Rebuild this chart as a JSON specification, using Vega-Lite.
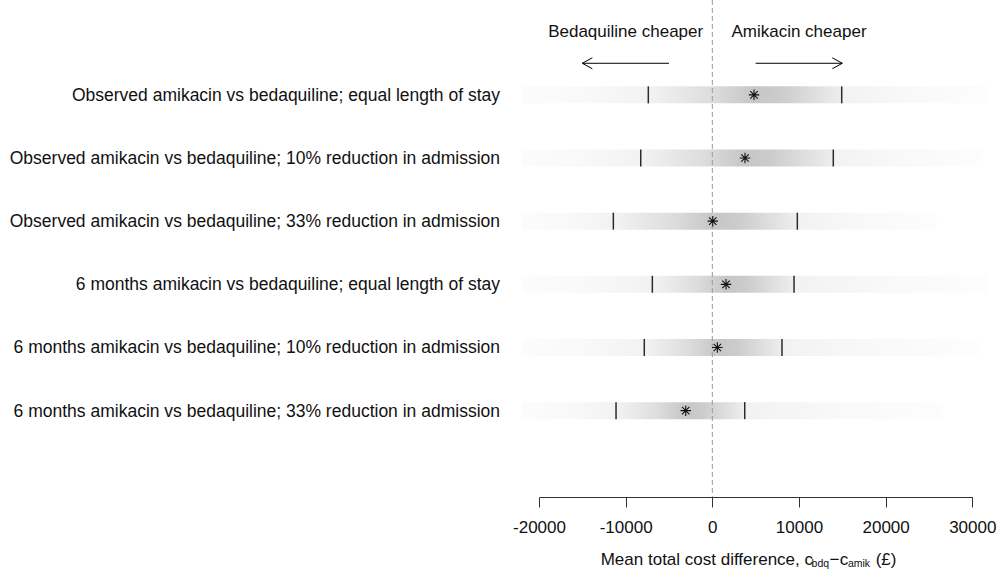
{
  "$schema": "https://vega.github.io/schema/vega-lite/v6.json",
  "autosize": {"type": "none"},
  "padding": {"left": 539, "top": 0, "right": 27.7, "bottom": 81},
  "width": 433.3,
  "height": 497,
  "background": "white",
  "config": {
    "view": {"stroke": null},
    "font": "Liberation Sans",
    "axisX": {
      "domainColor": "#333333",
      "tickColor": "#333333",
      "tickSize": 10,
      "labelFontSize": 17,
      "labelFont": "Liberation Sans",
      "labelColor": "#111111",
      "labelPadding": 12,
      "grid": false,
      "labelFlush": false,
      "labelOverlap": false
    }
  },
  "datasets": {
    "rows": [
      {"row": 1, "label": "Observed amikacin vs bedaquiline; equal length of stay", "start": -22000, "lo": -7385, "est": 4810, "hi": 14930, "end": 32000},
      {"row": 2, "label": "Observed amikacin vs bedaquiline; 10% reduction in admission", "start": -22000, "lo": -8260, "est": 3770, "hi": 13960, "end": 31200},
      {"row": 3, "label": "Observed amikacin vs bedaquiline; 33% reduction in admission", "start": -22000, "lo": -11420, "est": 50, "hi": 9810, "end": 25890},
      {"row": 4, "label": "6 months amikacin vs bedaquiline; equal length of stay", "start": -22000, "lo": -6920, "est": 1580, "hi": 9430, "end": 31850},
      {"row": 5, "label": "6 months amikacin vs bedaquiline; 10% reduction in admission", "start": -22000, "lo": -7850, "est": 580, "hi": 8040, "end": 30690},
      {"row": 6, "label": "6 months amikacin vs bedaquiline; 33% reduction in admission", "start": -22000, "lo": -11110, "est": -3070, "hi": 3740, "end": 26580}
    ],
    "arrows": [
      {"dir": "left", "from": -5000, "to": -15000, "row": 0.5},
      {"dir": "right", "from": 5000, "to": 15000, "row": 0.5}
    ],
    "notes": [
      {"text": "Bedaquiline cheaper", "x": -10000, "row": 0},
      {"text": "Amikacin cheaper", "x": 10000, "row": 0}
    ]
  },
  "data": {"name": "rows"},
  "layer": [
    {
      "mark": {"type": "bar", "orient": "horizontal", "height": 17,
        "color": {"gradient": "linear", "x1": 0, "y1": 0, "x2": 1, "y2": 0,
          "stops": [{"offset": 0, "color": "#fcfcfc"}, {"offset": 0.5, "color": "#f9f9f9"}, {"offset": 1, "color": "#f2f2f2"}]}},
      "encoding": {
        "x": {"field": "start", "type": "quantitative", "title": null,
          "scale": {"domain": [-20000, 30000], "nice": false, "zero": false},
          "axis": {"values": [-20000, -10000, 0, 10000, 20000, 30000], "labelExpr": "toString(datum.value)", "title": null}},
        "x2": {"field": "lo"},
        "y": {"field": "row", "type": "quantitative", "title": null, "axis": null,
          "scale": {"domain": [-0.4226, 7.288], "reverse": true, "nice": false, "zero": false}}
      }
    },
    {
      "mark": {"type": "bar", "orient": "horizontal", "height": 17,
        "color": {"gradient": "linear", "x1": 0, "y1": 0, "x2": 1, "y2": 0,
          "stops": [{"offset": 0, "color": "#f2f2f2"}, {"offset": 0.5, "color": "#f9f9f9"}, {"offset": 1, "color": "#fdfdfd"}]}},
      "encoding": {
        "x": {"field": "hi", "type": "quantitative", "title": null},
        "x2": {"field": "end"},
        "y": {"field": "row", "type": "quantitative", "title": null, "axis": null}
      }
    },
    {
      "mark": {"type": "bar", "orient": "horizontal", "height": 17,
        "color": {"gradient": "linear", "x1": 0, "y1": 0, "x2": 1, "y2": 0,
          "stops": [{"offset": 0, "color": "#f3f3f3"}, {"offset": 0.6, "color": "#dddddd"}, {"offset": 1, "color": "#c6c6c6"}]}},
      "encoding": {
        "x": {"field": "lo", "type": "quantitative", "title": null},
        "x2": {"field": "est"},
        "y": {"field": "row", "type": "quantitative", "title": null, "axis": null}
      }
    },
    {
      "mark": {"type": "bar", "orient": "horizontal", "height": 17,
        "color": {"gradient": "linear", "x1": 0, "y1": 0, "x2": 1, "y2": 0,
          "stops": [{"offset": 0, "color": "#c6c6c6"}, {"offset": 0.3, "color": "#cccccc"}, {"offset": 1, "color": "#eeeeee"}]}},
      "encoding": {
        "x": {"field": "est", "type": "quantitative", "title": null},
        "x2": {"field": "hi"},
        "y": {"field": "row", "type": "quantitative", "title": null, "axis": null}
      }
    },
    {
      "data": {"values": [{"ref": 0}]},
      "mark": {"type": "rule", "color": "#9a9a9a", "strokeWidth": 1, "strokeDash": [5, 3]},
      "encoding": {
        "x": {"field": "ref", "type": "quantitative", "title": null}
      }
    },
    {
      "mark": {"type": "tick", "orient": "vertical", "size": 17, "thickness": 1.5, "color": "#2b2b2b", "opacity": 1},
      "encoding": {
        "x": {"field": "lo", "type": "quantitative", "title": null},
        "y": {"field": "row", "type": "quantitative", "title": null, "axis": null}
      }
    },
    {
      "mark": {"type": "tick", "orient": "vertical", "size": 17, "thickness": 1.5, "color": "#2b2b2b", "opacity": 1},
      "encoding": {
        "x": {"field": "hi", "type": "quantitative", "title": null},
        "y": {"field": "row", "type": "quantitative", "title": null, "axis": null}
      }
    },
    {
      "mark": {"type": "point", "shape": "M-1,0L1,0M0,-1L0,1M-0.71,-0.71L0.71,0.71M-0.71,0.71L0.71,-0.71", "size": 110, "filled": false, "stroke": "#111111", "strokeWidth": 1.1, "opacity": 1},
      "encoding": {
        "x": {"field": "est", "type": "quantitative", "title": null},
        "y": {"field": "row", "type": "quantitative", "title": null, "axis": null}
      }
    },
    {
      "mark": {"type": "text", "align": "right", "baseline": "middle", "dx": -39, "dy": 1, "fontSize": 17.5, "font": "Liberation Sans", "color": "#111111"},
      "encoding": {
        "x": {"datum": -20000, "type": "quantitative", "title": null},
        "y": {"field": "row", "type": "quantitative", "title": null, "axis": null},
        "text": {"field": "label"}
      }
    },
    {
      "data": {"name": "arrows"},
      "mark": {"type": "rule", "color": "#000000", "strokeWidth": 1},
      "encoding": {
        "x": {"field": "from", "type": "quantitative", "title": null},
        "x2": {"field": "to"},
        "y": {"field": "row", "type": "quantitative", "title": null, "axis": null}
      }
    },
    {
      "data": {"name": "arrows"},
      "mark": {"type": "point", "filled": false, "stroke": "#000000", "strokeWidth": 1, "size": 400, "opacity": 1},
      "encoding": {
        "x": {"field": "to", "type": "quantitative", "title": null},
        "y": {"field": "row", "type": "quantitative", "title": null, "axis": null},
        "shape": {"field": "dir", "type": "nominal", "legend": null,
          "scale": {"domain": ["left", "right"], "range": ["M1,-0.55L0,0L1,0.55", "M-1,-0.55L0,0L-1,0.55"]}}
      }
    },
    {
      "data": {"name": "notes"},
      "mark": {"type": "text", "align": "center", "baseline": "middle", "fontSize": 17, "font": "Liberation Sans", "color": "#111111"},
      "encoding": {
        "x": {"field": "x", "type": "quantitative", "title": null},
        "y": {"field": "row", "type": "quantitative", "title": null, "axis": null},
        "text": {"field": "text"}
      }
    },
    {
      "data": {"values": [{"t": "Mean total cost difference, c"}]},
      "mark": {"type": "text", "align": "left", "baseline": "middle", "fontSize": 17, "font": "Liberation Sans", "color": "#111111"},
      "encoding": {
        "x": {"datum": -12880, "type": "quantitative", "title": null},
        "y": {"datum": 8.36, "type": "quantitative", "title": null, "axis": null},
        "text": {"field": "t"}
      }
    },
    {
      "data": {"values": [{"t": "bdq"}]},
      "mark": {"type": "text", "align": "left", "baseline": "middle", "dy": 4, "fontSize": 10.5, "font": "Liberation Sans", "color": "#111111"},
      "encoding": {
        "x": {"datum": 11450, "type": "quantitative", "title": null},
        "y": {"datum": 8.36, "type": "quantitative", "title": null, "axis": null},
        "text": {"field": "t"}
      }
    },
    {
      "data": {"values": [{"t": "−"}]},
      "mark": {"type": "text", "align": "center", "baseline": "middle", "fontSize": 17, "font": "Liberation Sans", "color": "#111111"},
      "encoding": {
        "x": {"datum": 14100, "type": "quantitative", "title": null},
        "y": {"datum": 8.36, "type": "quantitative", "title": null, "axis": null},
        "text": {"field": "t"}
      }
    },
    {
      "data": {"values": [{"t": "c"}]},
      "mark": {"type": "text", "align": "left", "baseline": "middle", "fontSize": 17, "font": "Liberation Sans", "color": "#111111"},
      "encoding": {
        "x": {"datum": 14700, "type": "quantitative", "title": null},
        "y": {"datum": 8.36, "type": "quantitative", "title": null, "axis": null},
        "text": {"field": "t"}
      }
    },
    {
      "data": {"values": [{"t": "amik"}]},
      "mark": {"type": "text", "align": "left", "baseline": "middle", "dy": 4, "fontSize": 10.5, "font": "Liberation Sans", "color": "#111111"},
      "encoding": {
        "x": {"datum": 15650, "type": "quantitative", "title": null},
        "y": {"datum": 8.36, "type": "quantitative", "title": null, "axis": null},
        "text": {"field": "t"}
      }
    },
    {
      "data": {"values": [{"t": "(£)"}]},
      "mark": {"type": "text", "align": "left", "baseline": "middle", "fontSize": 17, "font": "Liberation Sans", "color": "#111111"},
      "encoding": {
        "x": {"datum": 18850, "type": "quantitative", "title": null},
        "y": {"datum": 8.36, "type": "quantitative", "title": null, "axis": null},
        "text": {"field": "t"}
      }
    }
  ]
}
